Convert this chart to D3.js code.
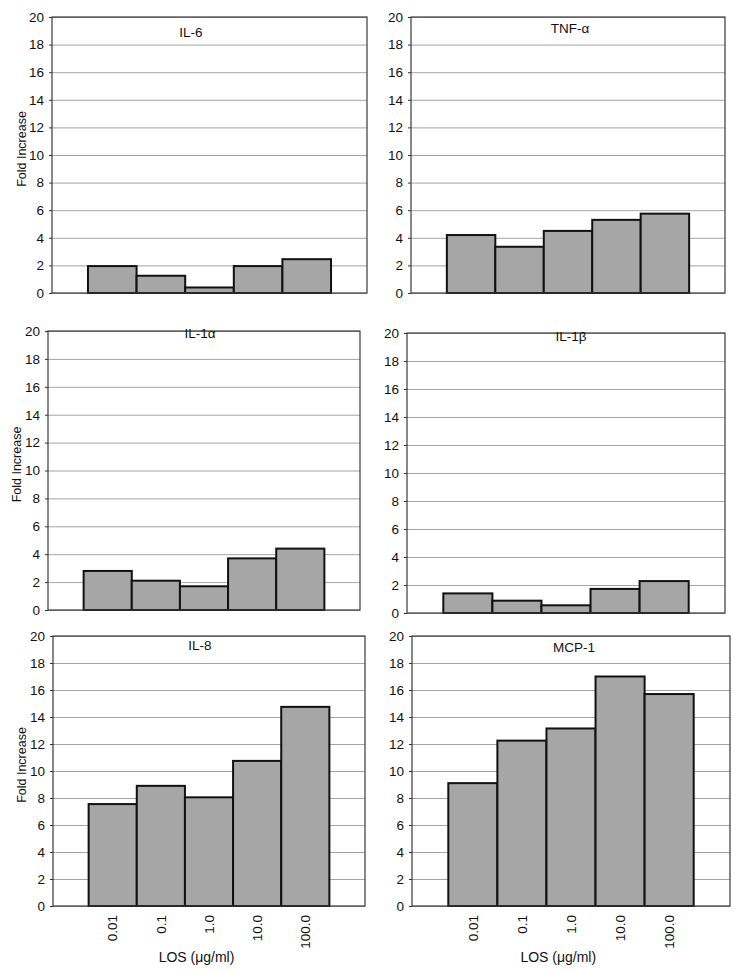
<!DOCTYPE html>
<html lang="en">
<head>
    <meta charset="UTF-8">
    <title>Fold increase vs LOS</title>
    <style>
        body {
          margin: 0;
          background: #fff;
          font-family: "Liberation Sans", Arial, Helvetica, sans-serif;
        }
        .grid line {
          stroke: #a4a4a4;
          stroke-width: 1px;
        }
        .grid path { display: none; }
        .yaxis path { display: none; }
        .yaxis line { stroke: #333; }
        .yaxis text { font-size: 13.5px; fill: #111; font-family: "Liberation Sans", Arial, sans-serif; }
        .frame {
          fill: none;
          stroke: #3a3a3a;
          stroke-width: 1.2px;
        }
        .bar {
          fill: #a6a6a6;
          stroke: #111;
          stroke-width: 2px;
        }
        .title { font-size: 13.5px; fill: #111; }
        .xlab { font-size: 13.5px; fill: #111; }
        .ylab { font-size: 12.5px; fill: #111; }
    </style>
</head>
<body>
    <script src="https://d3js.org/d3.v7.min.js"></script>
    <script>
        // LOS doses (x categories) and y ticks
        var doses = ["0.01", "0.1", "1.0", "10.0", "100.0"];
        var yTicks = [0, 2, 4, 6, 8, 10, 12, 14, 16, 18, 20];

        // fold increase per cytokine
        var il6  = [1.95, 1.25, 0.4, 1.95, 2.45];
        var tnfa = [4.2, 3.35, 4.5, 5.3, 5.75];
        var il1a = [2.8, 2.1, 1.7, 3.7, 4.4];
        var il1b = [1.4, 0.88, 0.55, 1.72, 2.28];
        var il8  = [7.55, 8.9, 8.05, 10.75, 14.75];
        var mcp1 = [9.1, 12.25, 13.15, 17.0, 15.7];

        var titles = ["IL-6", "TNF-\u03b1", "IL-1\u03b1", "IL-1\u03b2", "IL-8", "MCP-1"];
        var series = [il6, tnfa, il1a, il1b, il8, mcp1];

        // plot boxes: left, top, right, bottom + title position
        var panels = [
          {l: 52,  t: 17,  r: 367, b: 293, tx: 191, ty: 37,  ylab: 22, xaxis: false},
          {l: 411, t: 17,  r: 725, b: 293, tx: 570, ty: 33,  ylab: null, xaxis: false},
          {l: 48,  t: 331, r: 360, b: 610, tx: 200, ty: 338, ylab: 17, xaxis: false},
          {l: 407, t: 333, r: 725, b: 613, tx: 571, ty: 341, ylab: null, xaxis: false},
          {l: 53,  t: 636, r: 365, b: 906, tx: 200, ty: 650, ylab: 22, xaxis: true},
          {l: 412, t: 636, r: 730, b: 906, tx: 574, ty: 652, ylab: null, xaxis: true}
        ];

        var svg = d3.select("body").append("svg")
            .attr("width", 745)
            .attr("height", 973);

        panels.forEach(function(p, i) {
          var w = p.r - p.l, h = p.b - p.t;

          var x = d3.scaleBand()
              .domain(doses)
              .range([0, w])
              .paddingInner(0)
              .paddingOuter(0.74);

          var y = d3.scaleLinear()
              .domain([0, 20])
              .range([h, 0]);

          var g = svg.append("g")
              .attr("transform", "translate(" + p.l + "," + p.t + ")");

          // gridlines
          g.append("g")
              .attr("class", "grid")
              .call(d3.axisLeft(y).tickValues(yTicks).tickSize(-w).tickFormat(""));

          // y axis ticks + labels
          g.append("g")
              .attr("class", "yaxis")
              .call(d3.axisLeft(y).tickValues(yTicks).tickSize(3).tickPadding(5));

          g.selectAll(".bar")
              .data(series[i])
            .enter().append("rect")
              .attr("class", "bar")
              .attr("x", function(d, j) { return x(doses[j]); })
              .attr("width", x.bandwidth())
              .attr("y", function(d) { return y(d); })
              .attr("height", function(d) { return h - y(d); });

          g.append("rect")
              .attr("class", "frame")
              .attr("width", w)
              .attr("height", h);

          svg.append("text")
              .attr("class", "title")
              .attr("x", p.tx)
              .attr("y", p.ty)
              .attr("text-anchor", "middle")
              .text(titles[i]);

          if (p.ylab != null) {
            svg.append("text")
                .attr("class", "ylab")
                .attr("transform", "translate(" + p.ylab + "," + (p.t + h / 2 - 6) + ")rotate(-90)")
                .attr("text-anchor", "middle")
                .attr("dy", "0.35em")
                .text("Fold Increase");
          }

          if (p.xaxis) {
            g.selectAll(".dose")
                .data(doses)
              .enter().append("text")
                .attr("class", "xlab")
                .attr("transform", function(d) {
                  return "translate(" + (x(d) + x.bandwidth() / 2) + "," + (h + 9) + ")rotate(-90)";
                })
                .attr("text-anchor", "end")
                .attr("dy", "0.35em")
                .text(function(d) { return d; });

            svg.append("text")
                .attr("class", "xlab")
                .attr("x", p.l + w * 0.46)
                .attr("y", 962)
                .attr("text-anchor", "middle")
                .style("font-size", "14px")
                .text("LOS (\u03bcg/ml)");
          }
        });
    </script>
</body>
</html>
